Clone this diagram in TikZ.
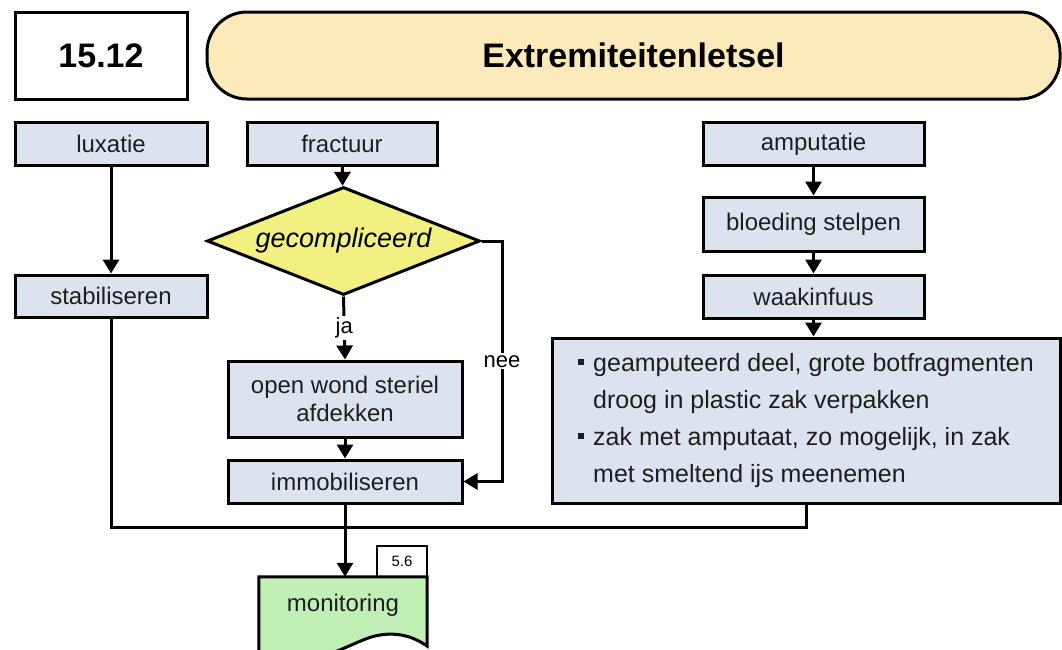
\documentclass[tikz,border=0pt]{standalone}
\usepackage{fontspec}
\setmainfont{Liberation Sans}
\usetikzlibrary{shapes.geometric,arrows.meta}

\definecolor{stepfill}{RGB}{221,227,238}
\definecolor{titlefill}{RGB}{253,234,186}
\definecolor{choicefill}{RGB}{242,240,128}
\definecolor{monfill}{RGB}{192,240,182}
\definecolor{inktext}{RGB}{30,30,30}

\newcommand{\sqbul}{\makebox[15pt][l]{\rule[6pt]{6pt}{6pt}}}

\begin{document}
\begin{tikzpicture}[
    x=1pt, y=-1pt,
    stepbox/.style={
        rectangle,
        draw=black,
        line width=3pt,
        fill=stepfill,
        inner sep=0pt,
        minimum height=43pt,
        text=inktext,
        font=\fontsize{24}{28}\selectfont,
        align=center
    },
    headbox/.style={
        rectangle,
        draw=black,
        line width=3pt,
        fill=white,
        inner sep=0pt,
        minimum width=172pt,
        minimum height=87pt,
        font=\fontsize{34}{38}\selectfont\bfseries
    },
    titlebox/.style={
        rectangle,
        rounded corners=40pt,
        draw=black,
        line width=3pt,
        fill=titlefill,
        inner sep=0pt,
        minimum width=853pt,
        minimum height=87pt,
        font=\fontsize{34}{38}\selectfont\bfseries
    },
    choice/.style={
        diamond,
        draw=black,
        line width=3pt,
        fill=choicefill,
        inner sep=0pt,
        aspect=2.5,
        minimum width=273pt,
        minimum height=108pt,
        font=\fontsize{27}{30}\selectfont\itshape
    },
    flow/.style={
        line width=3pt,
        -{Triangle[width=16pt,length=14pt]}
    },
    link/.style={line width=3pt},
    lbl/.style={
        fill=white,
        inner sep=2pt,
        font=\fontsize{22}{24}\selectfont
    }
]
\useasboundingbox (0,0) rectangle (1062,649);

% Header
\node[headbox] (num) at (101,55.5) {15.12};
\node[titlebox] (title) at (633.5,55.5) {Extremiteitenletsel};

% Left column
\node[stepbox, minimum width=192pt] (luxatie) at (111,144) {luxatie};
\node[stepbox, minimum width=192pt, minimum height=42pt] (stabil) at (111,296) {stabiliseren};

% Middle column
\node[stepbox, minimum width=190pt] (fractuur) at (342,144) {fractuur};
\node[choice] (gecomp) at (343.5,241) {gecompliceerd};
\node[stepbox, minimum width=234pt, minimum height=76pt] (openwond) at (345,399)
    {open wond steriel\\afdekken};
\node[stepbox, minimum width=234pt] (immob) at (345,481.5) {immobiliseren};

% Right column
\node[stepbox, minimum width=221pt] (amputatie) at (813.5,144) {amputatie};
\node[stepbox, minimum width=221pt, minimum height=54pt] (bloeding) at (813.5,224) {bloeding stelpen};
\node[stepbox, minimum width=221pt] (waak) at (813.5,296.5) {waakinfuus};
\node[stepbox, minimum width=508pt, minimum height=165pt, align=left,
      font=\fontsize{25}{37}\selectfont] (notes) at (806,420.5)
    {\sqbul geamputeerd deel, grote botfragmenten\\
     \hspace*{15pt}droog in plastic zak verpakken\\
     \sqbul zak met amputaat, zo mogelijk, in zak\\
     \hspace*{15pt}met smeltend ijs meenemen};

% Monitoring
\node[rectangle, draw=black, line width=1.5pt, fill=white, minimum width=50pt,
      minimum height=31pt, inner sep=0pt, font=\fontsize{15}{17}\selectfont] (ref) at (402,561.5) {5.6};
\node[rectangle, inner sep=0pt, minimum width=168pt, minimum height=56pt] (monitor) at (343,605) {};
\filldraw[fill=monfill, line width=3pt]
    (monitor.north west) -- (monitor.north east) -- (427,646)
    .. controls (410,634) and (392,632) .. (375,636)
    .. controls (350,642) and (320,668) .. (259,662) -- cycle;
\node[font=\fontsize{24}{28}\selectfont, text=inktext] at (monitor.center) {monitoring};

% Arrows
\draw[flow] (luxatie) -- (stabil);
\draw[flow] (fractuur) -- (gecomp);
\draw[flow] (gecomp.south) -- (openwond.north) node[lbl, midway] {ja};
\draw[flow] (openwond) -- (immob);
\draw[flow] (gecomp.east) -- (502,241) |- (immob.east) node[lbl, pos=0.25] {nee};
\draw[flow] (amputatie) -- (bloeding);
\draw[flow] (bloeding) -- (waak);
\draw[flow] (waak.south) -- (waak.south |- notes.north);

\coordinate (join) at (345,527);
\draw[link] (stabil.south) |- (join) -| (notes.south);
\draw[flow] (immob.south) -- (immob.south |- monitor.north);

\end{tikzpicture}
\end{document}
